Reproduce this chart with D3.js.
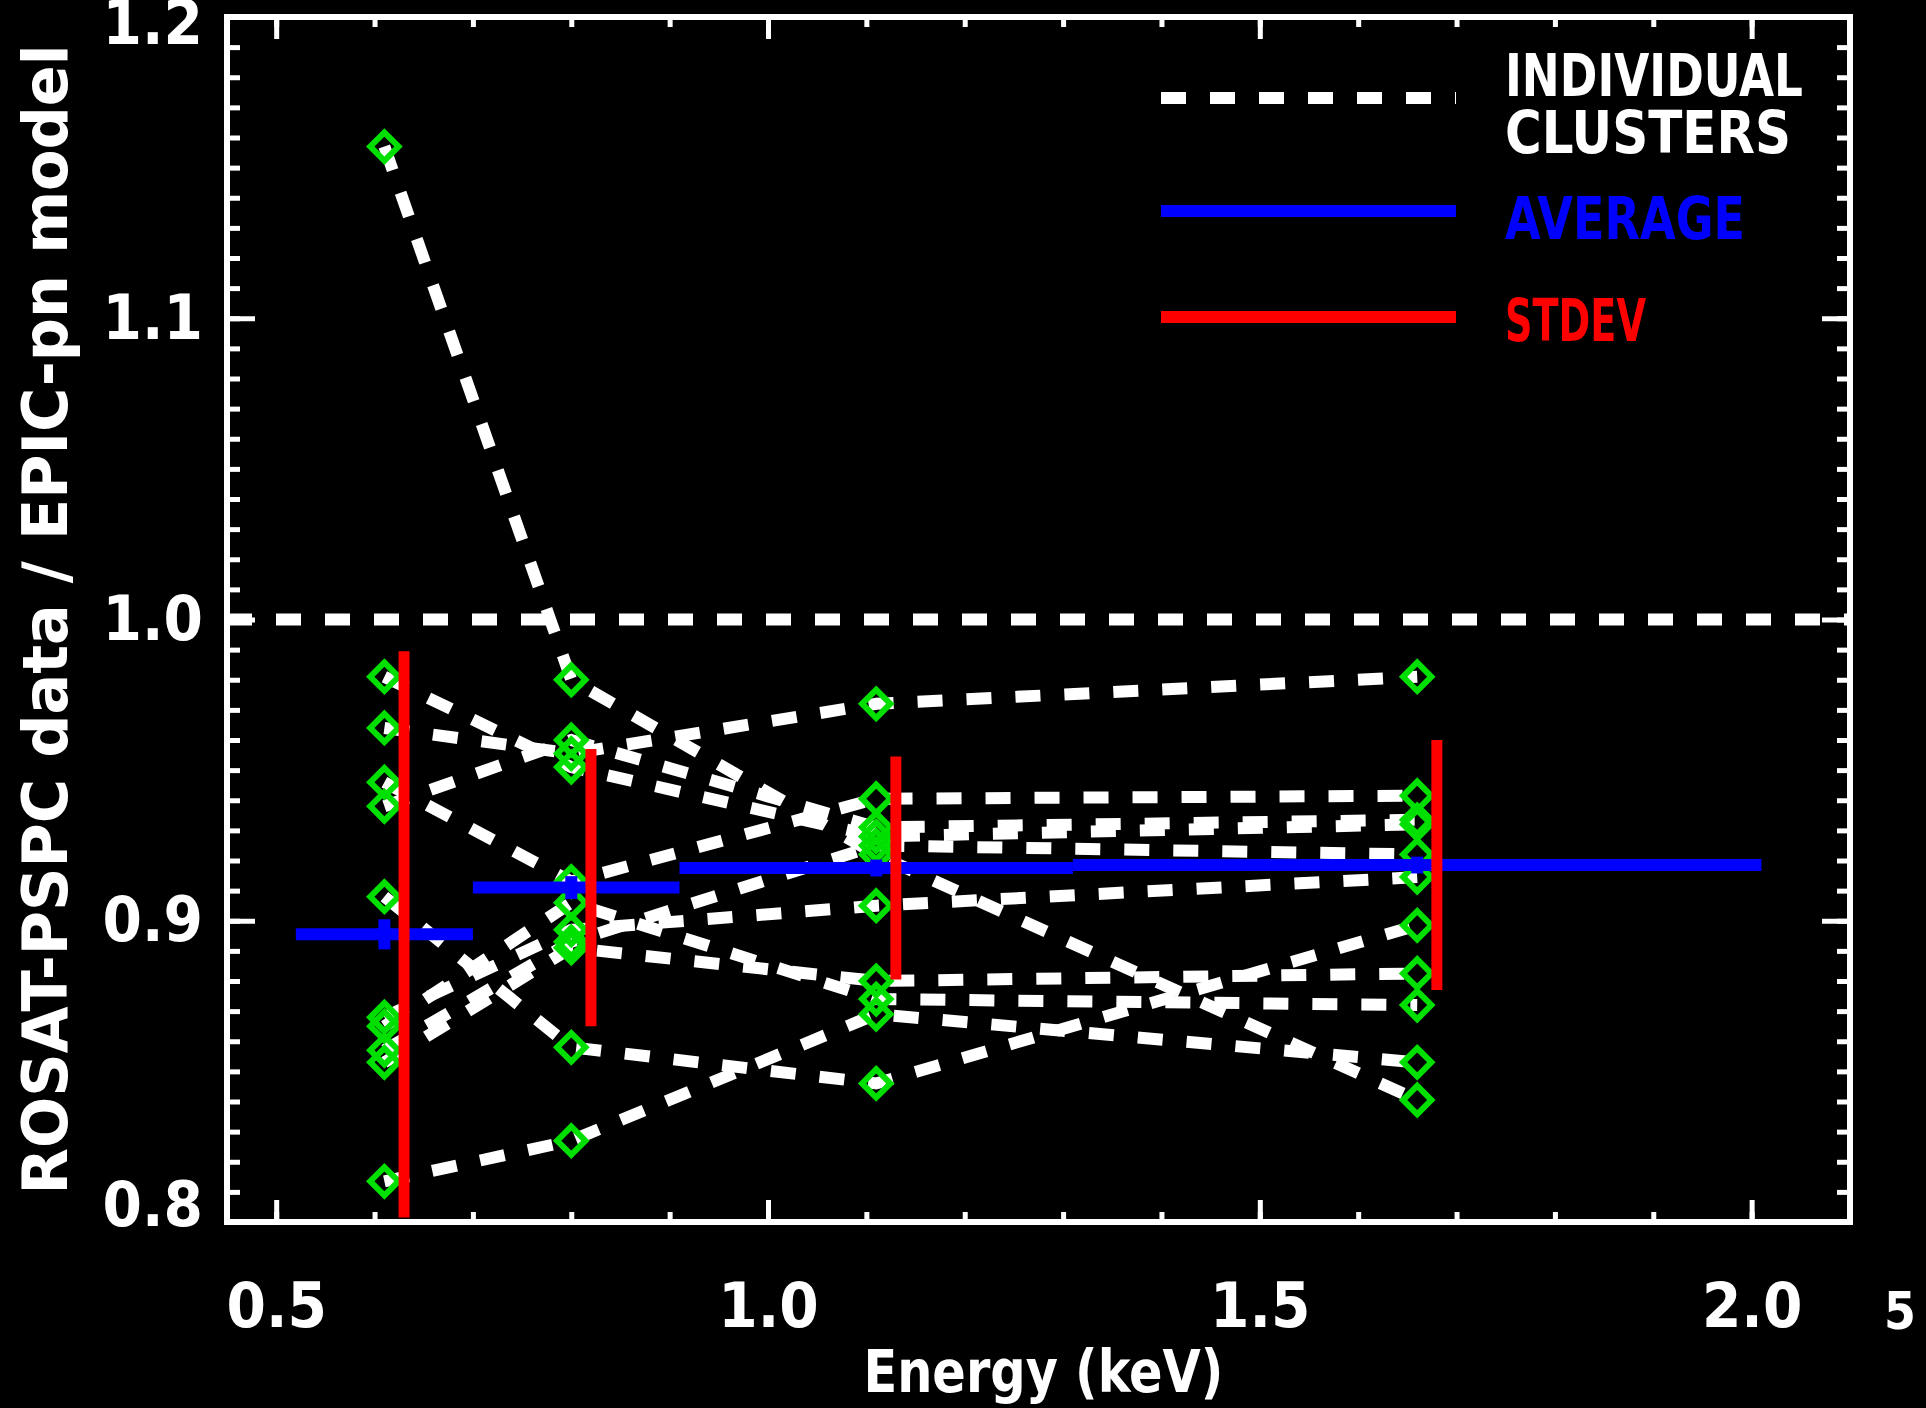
<!DOCTYPE html>
<html>
<head>
<meta charset="utf-8">
<script src="https://cdn.jsdelivr.net/npm/d3@7"></script>
<style>
  html, body { margin: 0; padding: 0; background: #000; }
  svg { display: block; }
  text {
    font-family: 'Liberation Sans Narrow', 'DejaVu Sans Condensed', 'DejaVu Sans', sans-serif;
    font-stretch: condensed;
    font-weight: bold;
    fill: #fff;
  }
</style>
</head>
<body>
<div id="app"></div>
<script>
// band centre energies (keV) where each cluster was measured
const energies = [0.61, 0.80, 1.11, 1.66];

// ROSAT/EPIC ratio per cluster, one value per energy band
const clusters = [
  [1.157, 0.980, 0.922, 0.8405],
  [0.981, 0.951, 0.928, 0.932],
  [0.964, 0.9555, 0.972, 0.981],
  [0.946, 0.913, 0.9405, 0.9415],
  [0.938, 0.960, 0.931, 0.9335],
  [0.908, 0.858, 0.846, 0.8985],
  [0.868, 0.897, 0.905, 0.9145],
  [0.865, 0.906, 0.874, 0.872],
  [0.857, 0.893, 0.925, 0.922],
  [0.853, 0.891, 0.880, 0.8825],
  [0.8135, 0.827, 0.869, 0.853]
];

// energy bands and their average / stdev
const bandLo = [0.52, 0.70, 0.91, 1.31];
const bandHi = [0.70, 0.91, 1.31, 2.01];
const average = [0.8955, 0.911, 0.9175, 0.9185];
const averageErr = [0.005, 0.0038, 0.0028, 0.0028];
const stdev = [0.094, 0.046, 0.037, 0.0415];

const yTicks = [0.8, 0.9, 1.0, 1.1, 1.2];
const xTicks = [0.5, 1.0, 1.5, 2.0];

const legendItems = [
  { label: ['INDIVIDUAL', 'CLUSTERS'], color: '#fff', dash: true },
  { label: ['AVERAGE'], color: '#0000ff', dash: false },
  { label: ['STDEV'], color: '#ff0000', dash: false }
];

const width = 1926;
const height = 1408;
const margin = { top: 17, right: 76, bottom: 186, left: 227 };

const svg = d3.select('#app')
  .append('svg')
  .attr('width', width)
  .attr('height', height)
  .style('background', '#000');

const x = d3.scaleLinear()
  .domain([0.45, 2.1])
  .range([margin.left, width - margin.right]);

const y = d3.scaleLinear()
  .domain([0.8, 1.2])
  .range([height - margin.bottom, margin.top]);

const green = '#00e000';
const blue = '#0000ff';
const red = '#ff0000';

// axes, ticks inward on all four sides
function styleAxis(g) {
  g.select('.domain').remove();
  g.selectAll('.tick line').attr('stroke', '#fff').attr('stroke-width', 5);
  g.selectAll('.tick text').attr('fill', '#fff').attr('font-size', 63);
}

const yMinor = d3.range(80, 121).map(d => d / 100);
const xMinor = d3.range(5, 22).map(d => d / 10);

svg.append('g')
  .attr('transform', `translate(${margin.left},0)`)
  .call(d3.axisLeft(y).tickValues(yMinor).tickSize(-13).tickFormat(''))
  .call(styleAxis);
const yAxisG = svg.append('g')
  .attr('transform', `translate(${margin.left},0)`)
  .call(d3.axisLeft(y).tickValues(yTicks).tickSize(-28).tickPadding(24).tickFormat(d3.format('.1f')))
  .call(styleAxis);
// the end labels sit a little inside the frame, as in the original
yAxisG.selectAll('.tick text')
  .attr('y', d => d === 1.2 ? 6 : d === 0.8 ? -17 : 0);

svg.append('g')
  .attr('transform', `translate(${width - margin.right},0)`)
  .call(d3.axisRight(y).tickValues(yMinor).tickSize(-13).tickFormat(''))
  .call(styleAxis);
svg.append('g')
  .attr('transform', `translate(${width - margin.right},0)`)
  .call(d3.axisRight(y).tickValues(yTicks).tickSize(-28).tickFormat(''))
  .call(styleAxis);

svg.append('g')
  .attr('transform', `translate(0,${height - margin.bottom})`)
  .call(d3.axisBottom(x).tickValues(xMinor).tickSize(-10).tickFormat(''))
  .call(styleAxis);
svg.append('g')
  .attr('transform', `translate(0,${height - margin.bottom})`)
  .call(d3.axisBottom(x).tickValues(xTicks).tickSize(-22).tickPadding(60).tickFormat(d3.format('.1f')))
  .call(styleAxis);
svg.append('g')
  .attr('transform', `translate(0,${margin.top})`)
  .call(d3.axisTop(x).tickValues(xMinor).tickSize(-10).tickFormat(''))
  .call(styleAxis);
svg.append('g')
  .attr('transform', `translate(0,${margin.top})`)
  .call(d3.axisTop(x).tickValues(xTicks).tickSize(-22).tickFormat(''))
  .call(styleAxis);

// frame
svg.append('rect')
  .attr('x', x(0.45))
  .attr('y', y(1.2))
  .attr('width', x(2.1) - x(0.45))
  .attr('height', y(0.8) - y(1.2))
  .attr('fill', 'none')
  .attr('stroke', '#fff')
  .attr('stroke-width', 6);

// axis titles
svg.append('text')
  .attr('x', x(1.28))
  .attr('y', 1392)
  .attr('text-anchor', 'middle')
  .attr('font-size', 59)
  .attr('textLength', 360)
  .attr('lengthAdjust', 'spacingAndGlyphs')
  .text('Energy (keV)');

svg.append('text')
  .attr('transform', `translate(67,${y(1.0)}) rotate(-90)`)
  .attr('text-anchor', 'middle')
  .attr('font-size', 62)
  .attr('textLength', 1150)
  .attr('lengthAdjust', 'spacingAndGlyphs')
  .text('ROSAT-PSPC data / EPIC-pn model');

svg.append('text')
  .attr('x', 1900)
  .attr('y', 1329)
  .attr('text-anchor', 'middle')
  .attr('font-size', 51)
  .attr('font-weight', 'normal')
  .text('5');

const dash = '25,24';

// reference line at ratio 1
svg.append('line')
  .attr('x1', x(0.45))
  .attr('x2', x(2.1))
  .attr('y1', y(1.0))
  .attr('y2', y(1.0))
  .attr('stroke', '#fff')
  .attr('stroke-width', 12)
  .attr('stroke-dasharray', dash);

// individual clusters
const line = d3.line()
  .x((d, i) => x(energies[i]))
  .y(d => y(d));

svg.append('g')
  .selectAll('path')
  .data(clusters)
  .join('path')
  .attr('d', line)
  .attr('fill', 'none')
  .attr('stroke', '#fff')
  .attr('stroke-width', 12)
  .attr('stroke-dasharray', dash);

const diamond = d3.symbol(d3.symbolSquare, 400);
svg.append('g')
  .selectAll('path')
  .data(clusters.flatMap(c => c.map((v, i) => ({ e: energies[i], v }))))
  .join('path')
  .attr('d', diamond)
  .attr('transform', d => `translate(${x(d.e)},${y(d.v)}) rotate(45)`)
  .attr('fill', 'none')
  .attr('stroke', green)
  .attr('stroke-width', 6);

// average per band with its small error bar
const bands = energies.map((e, i) => ({
  e, lo: bandLo[i], hi: bandHi[i], avg: average[i], err: averageErr[i], sd: stdev[i]
}));

const avgG = svg.append('g').attr('stroke', blue).attr('stroke-width', 12);
avgG.selectAll('.avg')
  .data(bands)
  .join('line')
  .attr('class', 'avg')
  .attr('x1', d => x(d.lo))
  .attr('x2', d => x(d.hi))
  .attr('y1', d => y(d.avg))
  .attr('y2', d => y(d.avg));
avgG.selectAll('.err')
  .data(bands)
  .join('line')
  .attr('class', 'err')
  .attr('x1', d => x(d.e))
  .attr('x2', d => x(d.e))
  .attr('y1', d => y(d.avg - d.err))
  .attr('y2', d => y(d.avg + d.err));

// stdev bars, drawn just right of the data column
svg.append('g')
  .selectAll('line')
  .data(bands)
  .join('line')
  .attr('x1', d => x(d.e + 0.02))
  .attr('x2', d => x(d.e + 0.02))
  .attr('y1', d => y(d.avg - d.sd))
  .attr('y2', d => y(d.avg + d.sd))
  .attr('stroke', red)
  .attr('stroke-width', 11);

// legend
const legendY = [98, 211, 317];
const legendText = [[96, 153], [239], [341]];
const legendWidth = [[298, 286], [240], [141]];

legendItems.forEach((item, i) => {
  svg.append('line')
    .attr('x1', 1161)
    .attr('x2', 1456)
    .attr('y1', legendY[i])
    .attr('y2', legendY[i])
    .attr('stroke', item.color)
    .attr('stroke-width', 12)
    .attr('stroke-dasharray', item.dash ? dash : null);
  item.label.forEach((t, j) => {
    svg.append('text')
      .attr('x', 1505)
      .attr('y', legendText[i][j])
      .attr('font-size', 58)
      .attr('textLength', legendWidth[i][j])
      .attr('lengthAdjust', 'spacingAndGlyphs')
      .style('fill', item.color)
      .text(t);
  });
});
</script>
</body>
</html>
